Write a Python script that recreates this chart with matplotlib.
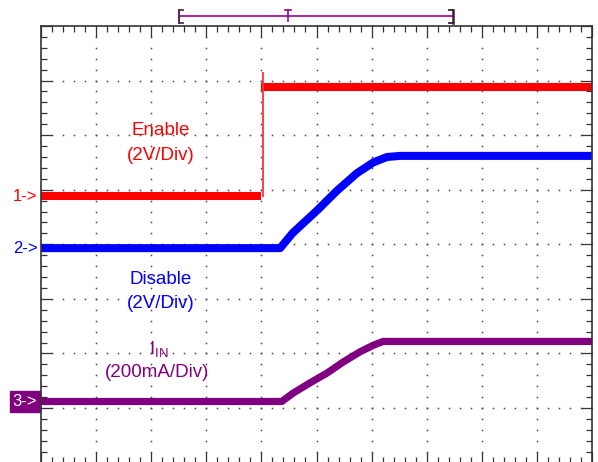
import numpy as np
import matplotlib.pyplot as plt
import matplotlib.transforms as mtransforms
from matplotlib.patches import Rectangle
from matplotlib.ticker import MultipleLocator

plt.rcParams['font.family'] = ['Liberation Sans', 'DejaVu Sans']
plt.rcParams['mathtext.fontset'] = 'custom'
plt.rcParams['mathtext.rm'] = 'Liberation Sans'

# scope screen: 10 x 8 divisions, values read in divisions
enable_lo_x = [0.0, 4.0]
enable_lo_y = [4.88, 4.88]
enable_hi_x = [4.0, 10.0]
enable_hi_y = [6.89, 6.89]
enable_edge_y = [4.88, 7.14]

disable_x = [0.0, 4.34, 4.57, 5.01, 5.37, 5.73, 6.03, 6.28, 6.52, 10.0]
disable_y = [3.93, 3.93, 4.21, 4.62, 4.98, 5.30, 5.50, 5.60, 5.62, 5.62]

iin_x = [0.0, 4.37, 4.57, 4.88, 5.19, 5.48, 5.79, 6.03, 6.21, 10.0]
iin_y = [1.12, 1.12, 1.27, 1.46, 1.64, 1.84, 2.03, 2.15, 2.22, 2.22]

red = '#ff0000'
blue = '#0000ff'
purple = '#800080'
gray = '#333333'

fig = plt.figure(figsize=(5.98, 4.62), dpi=100)
ax = fig.add_axes([41 / 598, -0.6 / 462, 551 / 598, 436.6 / 462])
ax.set_xlim(0, 10)
ax.set_ylim(0, 8)

# dotted graticule
for gx in range(1, 10):
    ax.plot(np.full(41, gx), np.linspace(0, 8, 41), ls='none', marker='s',
            ms=1.1, mew=0, color='#444444')
for gy in range(1, 8):
    ax.plot(np.linspace(0, 10, 51), np.full(51, gy), ls='none', marker='s',
            ms=1.1, mew=0, color='#444444')

# traces
ax.plot(enable_lo_x, enable_lo_y, color=red, lw=5.8, solid_capstyle='butt')
ax.plot(enable_hi_x, enable_hi_y, color=red, lw=5.8, solid_capstyle='butt')
ax.plot([4.02, 4.02], enable_edge_y, color='#ff3333', lw=1.3)
ax.plot(disable_x, disable_y, color=blue, lw=5.8, solid_joinstyle='round')
ax.plot(iin_x, iin_y, color=purple, lw=5.2, solid_joinstyle='round')

# labels
ax.text(2.17, 6.09, 'Enable', color=red, fontsize=13.5, ha='center', va='center')
ax.text(2.17, 5.62, '(2V/Div)', color=red, fontsize=13.5, ha='center', va='center')
ax.text(2.17, 3.36, 'Disable', color=blue, fontsize=13.5, ha='center', va='center')
ax.text(2.17, 2.91, '(2V/Div)', color=blue, fontsize=13.5, ha='center', va='center')
ax.text(2.13, 2.08, r'$\mathregular{I_{IN}}$', color=purple, fontsize=13.5,
        ha='center', va='center')
ax.text(2.11, 1.66, '(200mA/Div)', color=purple, fontsize=13.5, ha='center', va='center')

# channel markers
tr = mtransforms.blended_transform_factory(ax.transAxes, ax.transData)
ax.text(-0.006, enable_lo_y[0], '1->', color=red, fontsize=12, ha='right',
        va='center', transform=tr)
ax.text(-0.006, disable_y[0], '2->', color=blue, fontsize=12, ha='right',
        va='center', transform=tr)
ax.add_patch(Rectangle((-0.0563, iin_y[0] - 0.2), 0.0545, 0.4, transform=tr,
                       color=purple, clip_on=False))
ax.text(-0.029, iin_y[0], '3->', color='white', fontsize=12, ha='center',
        va='center', transform=tr)

# trigger / record bar above the screen
tb = mtransforms.blended_transform_factory(ax.transData, ax.transAxes)
ax.plot([2.51, 7.47], [1.0229, 1.0229], color='#990099', lw=1.2, transform=tb, clip_on=False)
ax.plot([2.51, 2.51, 2.51, 2.57], [1.0366, 1.0069, 1.0366, 1.0366], color='#5a2a5a',
        lw=1.3, transform=tb, clip_on=False)
ax.plot([2.51, 2.57], [1.0069, 1.0069], color='#5a2a5a', lw=1.3, transform=tb, clip_on=False)
ax.plot([7.47, 7.47], [1.0366, 1.0069], color='#3a1a3a', lw=1.8, transform=tb, clip_on=False)
ax.plot([7.41, 7.47], [1.0366, 1.0366], color='#3a1a3a', lw=1.3, transform=tb, clip_on=False)
ax.plot([7.41, 7.47], [1.0069, 1.0069], color='#3a1a3a', lw=1.3, transform=tb, clip_on=False)
ax.plot([4.48, 4.48], [1.0366, 1.0114], color='#990099', lw=1.2, transform=tb, clip_on=False)
ax.plot([4.42, 4.54], [1.0366, 1.0366], color='#990099', lw=1.2, transform=tb, clip_on=False)

# ticks and frame
ax.xaxis.set_major_locator(MultipleLocator(1))
ax.xaxis.set_minor_locator(MultipleLocator(0.2))
ax.yaxis.set_major_locator(MultipleLocator(1))
ax.yaxis.set_minor_locator(MultipleLocator(0.2))
ax.tick_params(which='both', direction='in', top=True, bottom=True, left=True,
               right=True, labelbottom=False, labelleft=False, color=gray, width=0.9)
ax.tick_params(which='major', length=8)
ax.tick_params(which='minor', length=4.3)
for s in ax.spines.values():
    s.set_color(gray)
    s.set_linewidth(1.2)

fig.savefig('out.png', dpi=100)
